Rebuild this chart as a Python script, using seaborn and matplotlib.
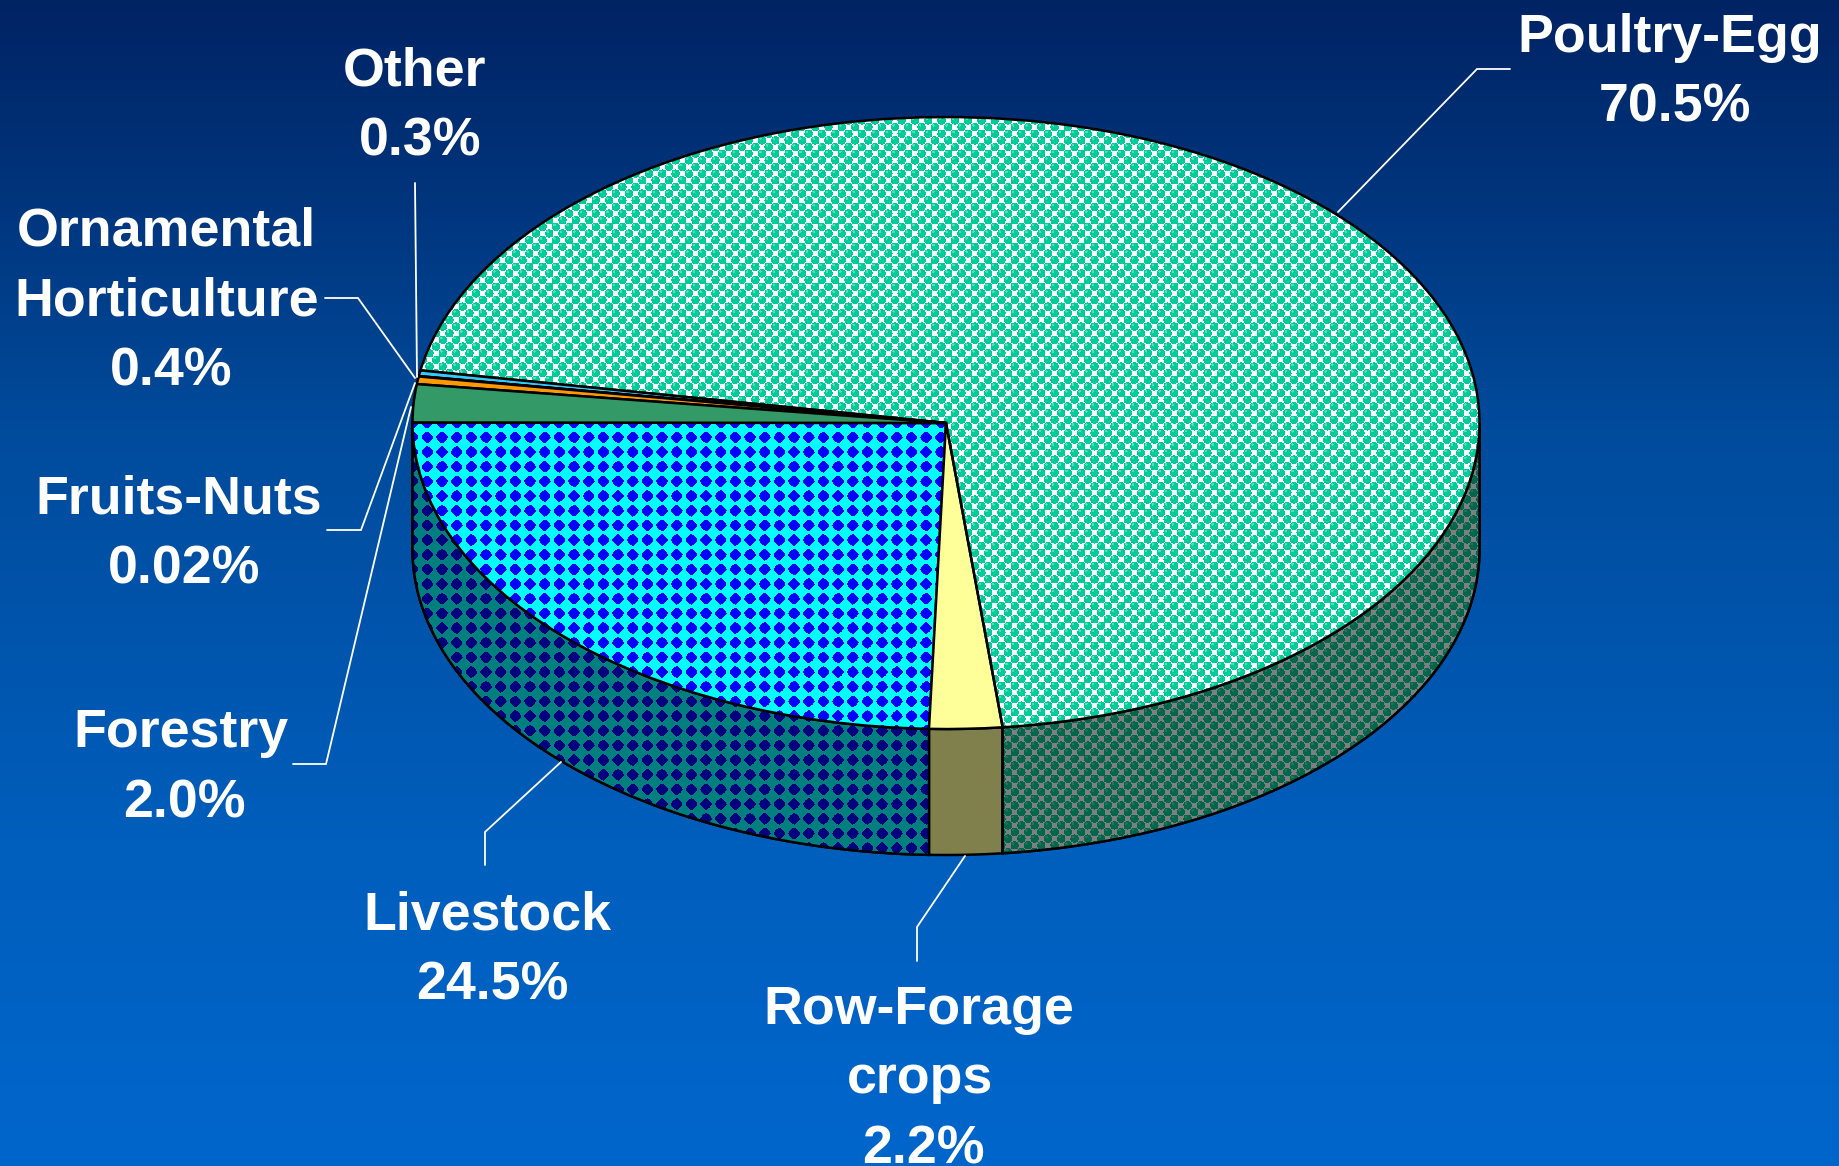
import numpy as np
import seaborn as sns
import matplotlib
matplotlib.use("Agg")
import matplotlib.pyplot as plt
from matplotlib.patches import Polygon

W, H = 1839, 1166

# slices, counter clockwise starting from the left side of the pie
categories = ["Livestock", "Row-Forage crops", "Poultry-Egg", "Other", "Fruits-Nuts",
              "Ornamental Horticulture", "Forestry"]
shares = [24.5, 2.2, 70.5, 0.3, 0.02, 0.4, 2.0]
slice_colors = ["#00FFFF", "#FFFF99", "#00CC99", "#33CCFF", "#000000", "#FF9900", "#339966"]

# label lines: text, centre x, baseline y (pixels)
label_lines = ["Poultry-Egg", "70.5%", "Other", "0.3%", "Ornamental", "Horticulture", "0.4%",
               "Fruits-Nuts", "0.02%", "Forestry", "2.0%", "Livestock", "24.5%",
               "Row-Forage", "crops", "2.2%"]
label_x = [1670, 1675, 415, 420, 166, 167, 171, 179, 184, 181, 184, 487, 492, 919, 920, 923]
label_y = [52, 122, 86, 155, 245, 315, 385, 513, 583, 747, 817, 929, 999, 1024, 1093, 1163]

# leader lines in pixels
leaders = [
    ([1338, 1477, 1510], [212, 69, 69]),
    ([415, 417], [183, 377]),
    ([325, 358, 415], [298, 298, 378]),
    ([327, 361, 415], [530, 530, 383]),
    ([293, 326, 411], [764, 764, 407]),
    ([561, 485, 485], [762, 832, 865]),
    ([965, 917, 917], [856, 927, 961]),
]

# background colour at a few heights
grad_y = [0, 180, 430, 840, 1166]
grad_colors = ["#002364", "#00337A", "#004B9C", "#005EBC", "#0066CC"]

cx, cy, rx, ry, depth = 946, 423, 533.5, 306, 126

sns.set_theme(style="white")
plt.rcParams["font.family"] = ["Liberation Sans", "DejaVu Sans"]

xx, yy = np.meshgrid(np.arange(W) + 0.5, np.arange(H) + 0.5)


def rgb(hex_color):
    return np.array(matplotlib.colors.to_rgb(hex_color))


def diamond_pattern():
    # cyan blobs and blue diamonds for the livestock slice
    p = 14.67
    v = np.cos(2 * np.pi * (xx - 420) / p) + np.cos(2 * np.pi * (yy - 430) / p)
    img = np.zeros((H, W, 3))
    img[v > -0.2] = rgb("#00FFFF")
    img[v <= -0.2] = rgb("#0000FF")
    return img


def ball_pattern():
    # green balls over a white checker for the poultry slice
    p = 13.3
    cell = (np.floor((xx - 908.3 + p / 4) / (p / 2)) + np.floor((yy - 313.3 + p / 4) / (p / 2))) % 2
    dist = []
    for ox, oy in [(0, 0), (p / 2, p / 2)]:
        dx = (xx - 908.3 - ox + p / 2) % p - p / 2
        dy = (yy - 313.3 - oy + p / 2) % p - p / 2
        dist.append(np.hypot(dx, dy))
        dist.append(np.hypot(dx + 1.5, dy + 1.8))
    d = np.minimum(dist[0], dist[2])
    shine = np.minimum(dist[1], dist[3])
    img = np.ones((H, W, 3))
    img[(cell == 0) | (d < 4.2)] = rgb("#00CC99")
    img[(d < 3.6) & (shine < 1.3)] = rgb("#55DDBB")
    return img


fig = plt.figure(figsize=(W / 100, H / 100), dpi=100)

# background gradient
bg = fig.add_axes([0, 0, 1, 1])
stops = np.array([rgb(c) for c in grad_colors])
rows = np.arange(H)
grad = np.column_stack([np.interp(rows, grad_y, stops[:, i]) for i in range(3)])[:, None, :]
bg.imshow(grad, aspect="auto", extent=(0, W, H, 0))
bg.axis("off")

ax = fig.add_axes([0, 0, 1, 1], facecolor="none")
palette = sns.color_palette(slice_colors)
wedges, _ = ax.pie(shares, colors=palette, startangle=179.9, counterclock=True, normalize=True,
                   wedgeprops={"edgecolor": "black", "linewidth": 1.8, "zorder": 5})
lims = ((-cx / rx, (W - cx) / rx), (-(H - cy) / ry, cy / ry))
ax.set_aspect("auto")
ax.set_xlim(*lims[0])
ax.set_ylim(*lims[1])

patterns = {"Livestock": diamond_pattern(), "Poultry-Egg": ball_pattern()}
extent = (lims[0][0], lims[0][1], lims[1][0], lims[1][1])

for wedge, name, color in zip(wedges, categories, palette):
    # side wall of the slice, only the front half of the pie shows one
    t1 = max(wedge.theta1, 180)
    t2 = min(wedge.theta2, 360)
    if t1 < t2:
        t = np.radians(np.linspace(t1, t2, 200))
        top = np.column_stack([np.cos(t), np.sin(t)])
        low = top[::-1] - [0, depth / ry]
        wall = Polygon(np.vstack([top, low]), closed=True, facecolor=np.array(color) * 0.5,
                       edgecolor="black", linewidth=1.8, zorder=2)
        ax.add_patch(wall)
        if name in patterns:
            im = ax.imshow(patterns[name] * 0.5, extent=extent, origin="upper", aspect="auto",
                           interpolation="nearest", zorder=3)
            im.set_clip_path(wall)
            wall_edge = Polygon(np.vstack([top, low]), closed=True, fill=False,
                                edgecolor="black", linewidth=1.8, zorder=4)
            ax.add_patch(wall_edge)
    if name in patterns:
        im = ax.imshow(patterns[name], extent=extent, origin="upper", aspect="auto",
                       interpolation="nearest", zorder=4.5)
        im.set_clip_path(wedge)
        wedge.set_facecolor("none")

ax.set_xlim(*lims[0])
ax.set_ylim(*lims[1])
ax.axis("off")

# labels and leaders, in pixels
over = fig.add_axes([0, 0, 1, 1], facecolor="none")
over.set_xlim(0, W)
over.set_ylim(H, 0)
over.axis("off")
for lx, ly in leaders:
    over.plot(lx, ly, color="white", linewidth=1.3, solid_joinstyle="miter")
for text, x, y in zip(label_lines, label_x, label_y):
    over.text(x, y, text, color="white", fontsize=38.7, fontweight="bold",
              ha="center", va="baseline")

fig.savefig("out.png", dpi=100)
